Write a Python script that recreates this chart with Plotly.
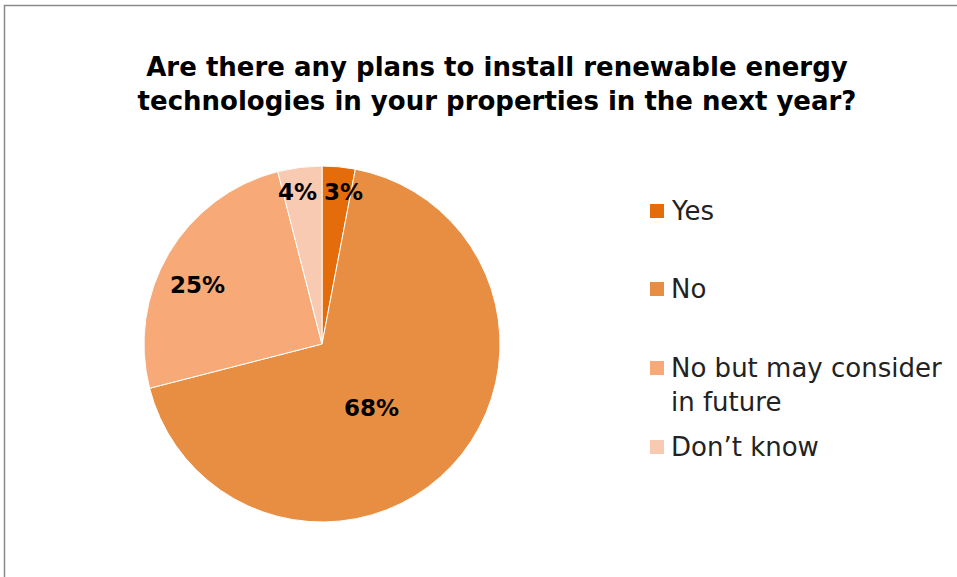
import math
import plotly.graph_objects as go

# Survey responses
categories = ["Yes", "No", "No but may consider in future", "Don\u2019t know"]
legend_labels = ["Yes", "No", "No but may consider<br>in future", "Don\u2019t know"]
values = [3, 68, 25, 4]
colors = ["#E46C0A", "#E88E42", "#F7AA78", "#F9CAB2"]

W, H = 957, 577
FONT = "Century Gothic, DejaVu Sans, sans-serif"

# pie geometry (pixels)
cx, cy, r = 322, 344, 178

fig = go.Figure(go.Pie(
    labels=categories,
    values=values,
    sort=False,
    direction="clockwise",
    rotation=0,
    marker=dict(colors=colors, line=dict(color="white", width=1)),
    textinfo="none",
    hoverinfo="label+percent",
    showlegend=False,
    domain=dict(x=[(cx - r) / W, (cx + r) / W], y=[1 - (cy + r) / H, 1 - (cy - r) / H]),
))

# percentage labels placed along each slice's mid-angle, with small nudges
radial = [0.86, 0.46, 0.76, 0.86]
nudge_x = [7, -10, -8, -5]
nudge_y = [0, -8, -10, 0]
total = sum(values)
cum = 0
annotations = []
for v, f, dx, dy in zip(values, radial, nudge_x, nudge_y):
    mid = (cum + v / 2) / total * 2 * math.pi
    cum += v
    px = cx + f * r * math.sin(mid)
    py = cy - f * r * math.cos(mid)
    annotations.append(dict(
        x=px / W, y=1 - py / H, xref="paper", yref="paper",
        xshift=dx, yshift=dy,
        text=f"<b>{round(v / total * 100)}%</b>", showarrow=False,
        font=dict(family=FONT, size=23, color="black"),
        xanchor="center", yanchor="middle",
    ))

# legend drawn as swatches + text
legend_y = [211, 289, 368, 447]
shapes = []
for lab, col, ly in zip(legend_labels, colors, legend_y):
    shapes.append(dict(type="rect", xref="paper", yref="paper",
                       x0=650 / W, x1=664 / W, y0=1 - (ly + 7) / H, y1=1 - (ly - 7) / H,
                       fillcolor=col, line=dict(width=0)))
    annotations.append(dict(
        x=669 / W, y=1 - (ly - 17) / H, xref="paper", yref="paper",
        text=lab, showarrow=False, align="left",
        font=dict(family=FONT, size=26, color="#222"),
        xanchor="left", yanchor="top",
    ))

# chart-area border
shapes.append(dict(type="rect", xref="paper", yref="paper",
                   x0=4.5 / W, y0=-0.05, x1=1.05, y1=1 - 5.5 / H,
                   line=dict(color="#8A8A8A", width=1.5), fillcolor="rgba(0,0,0,0)"))

fig.update_layout(
    width=W, height=H,
    margin=dict(l=0, r=0, t=0, b=0),
    paper_bgcolor="white",
    plot_bgcolor="white",
    title=dict(
        text="<b>Are there any plans to install renewable energy<br>technologies in your properties in the next year?</b>",
        x=497 / W, xanchor="center", y=1 - 76 / H, yanchor="top",
        font=dict(family=FONT, size=26, color="black"),
    ),
    annotations=annotations,
    shapes=shapes,
)

fig.write_html("out.html")
